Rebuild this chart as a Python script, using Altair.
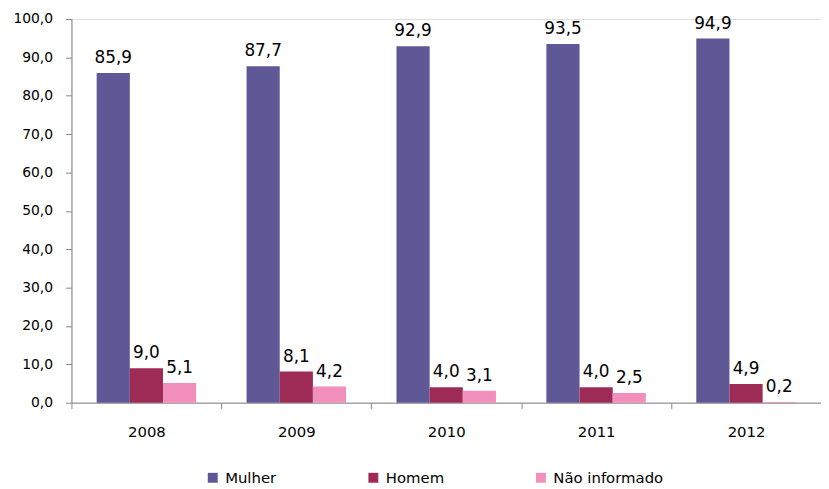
import altair as alt
import pandas as pd

years = ["2008", "2009", "2010", "2011", "2012"]
series = ["Mulher", "Homem", "Não informado"]
mulher = [85.9, 87.7, 92.9, 93.5, 94.9]
homem = [9.0, 8.1, 4.0, 4.0, 4.9]
nao_informado = [5.1, 4.2, 3.1, 2.5, 0.2]
colors = ["#5E5897", "#9E2B56", "#F28FBD"]

rows = []
for s, vals in zip(series, [mulher, homem, nao_informado]):
    for y, v in zip(years, vals):
        rows.append({"ano": y, "serie": s, "valor": v,
                     "rotulo": f"{v:.1f}".replace(".", ",")})
df = pd.DataFrame(rows)

FONT = "DejaVu Sans"

x = alt.X("ano:N", title=None, sort=years,
          scale=alt.Scale(paddingInner=0, paddingOuter=0),
          axis=alt.Axis(labelAngle=0, tickBand="extent", domainColor="#868686",
                        tickColor="#868686", tickSize=6, labelFontSize=15,
                        labelFont=FONT, labelColor="#000000", labelPadding=16))
xo = alt.XOffset("serie:N", sort=series,
                 scale=alt.Scale(paddingInner=0, paddingOuter=0.76))
y = alt.Y("valor:Q", title=None,
          scale=alt.Scale(domain=[0, 100], nice=False),
          axis=alt.Axis(values=list(range(0, 101, 10)),
                        labelExpr="replace(format(datum.value, '.1f'), '.', ',')",
                        grid=False, domainColor="#868686", tickColor="#868686",
                        tickSize=6, labelFontSize=14, labelFont=FONT,
                        labelColor="#000000", labelPadding=13))
color = alt.Color("serie:N", sort=series,
                  scale=alt.Scale(domain=series, range=colors),
                  legend=alt.Legend(title=None, orient="none", direction="horizontal",
                                    legendX=135, legendY=455, symbolType="square",
                                    symbolSize=100, symbolStrokeWidth=0,
                                    labelFontSize=15, labelFont=FONT,
                                    labelColor="#000000", labelOffset=5,
                                    columnPadding=90, padding=0))

base = alt.Chart(df)
bars = base.mark_bar().encode(x=x, xOffset=xo, y=y, color=color)
labels = base.mark_text(fontSize=17, font=FONT, color="#000000",
                        baseline="alphabetic", dy=-10).encode(
    x=x, xOffset=xo, y=y, text="rotulo:N")

chart = (bars + labels).properties(
    width=756, height=387,
    autosize=alt.AutoSizeParams(type="none"),
    padding={"left": 64, "top": 9, "right": 0, "bottom": 86},
).configure_view(stroke=None).configure(background="white")

chart.save("out.html", embed_options={"renderer": "svg", "actions": False})
